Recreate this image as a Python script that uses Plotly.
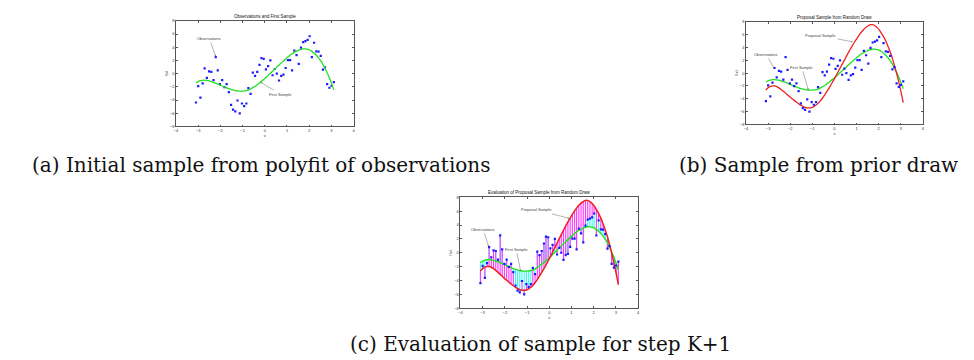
import plotly.graph_objects as go

# ---------------- data ----------------
x_obs = [-3.10, -3.00, -2.90, -2.80, -2.71, -2.61, -2.51, -2.41, -2.31, -2.21,
         -2.12, -2.02, -1.92, -1.82, -1.72, -1.62, -1.52, -1.43, -1.33, -1.23,
         -1.13, -1.03, -0.93, -0.83, -0.74, -0.64, -0.54, -0.44, -0.34, -0.24,
         -0.15, -0.05, 0.05, 0.15, 0.25, 0.35, 0.45, 0.54, 0.64, 0.74,
         0.84, 0.94, 1.04, 1.14, 1.23, 1.33, 1.43, 1.53, 1.63, 1.73,
         1.83, 1.93, 2.02, 2.12, 2.22, 2.32, 2.42, 2.52, 2.62, 2.71,
         2.81, 2.91, 3.01, 3.11]

y_obs = [-4.38, -1.90, -3.63, -1.49, 0.80, -0.65, 0.35, 0.25, -1.00, 2.50,
         0.50, -1.60, -1.00, -2.04, -1.60, -2.80, -4.73, -5.47, -5.72, -4.08,
         -6.02, -4.53, -4.93, -4.53, -2.19, -3.08, 0.15, -0.35, 0.25, 1.34,
         2.34, 2.24, 0.65, 1.14, 2.00, -0.25, 0.70, 0.00, -1.04, -0.35,
         -0.15, 0.85, 2.04, 2.04, 0.50, 3.48, 2.79, 1.49, 3.93, 4.78,
         4.93, 5.12, 5.67, 2.49, 4.68, 3.38, 3.33, 2.69, 0.60, 0.95,
         -1.60, -2.14, -1.84, -1.29]

first_sample = [-1.38, -1.20, -1.08, -1.02, -1.00, -1.04, -1.11, -1.21, -1.32, -1.45,
                -1.58, -1.73, -1.88, -2.02, -2.16, -2.29, -2.40, -2.48, -2.57, -2.63,
                -2.65, -2.66, -2.64, -2.57, -2.49, -2.33, -2.13, -1.92, -1.67, -1.42,
                -1.15, -0.89, -0.59, -0.27, 0.05, 0.37, 0.69, 0.98, 1.30, 1.62,
                1.92, 2.22, 2.51, 2.78, 3.01, 3.22, 3.41, 3.56, 3.68, 3.75,
                3.74, 3.68, 3.58, 3.37, 3.12, 2.79, 2.40, 1.95, 1.42, 0.82,
                0.12, -0.65, -1.52, -2.45]

proposal_sample = [-2.65, -2.30, -2.08, -1.98, -2.00, -2.10, -2.30, -2.55, -2.83, -3.12,
                   -3.40, -3.70, -3.98, -4.25, -4.52, -4.77, -5.00, -5.17, -5.33, -5.42,
                   -5.43, -5.37, -5.22, -4.98, -4.72, -4.33, -3.88, -3.38, -2.85, -2.30,
                   -1.77, -1.17, -0.55, 0.10, 0.75, 1.40, 2.03, 2.62, 3.25, 3.88,
                   4.46, 5.02, 5.55, 6.05, 6.45, 6.85, 7.17, 7.40, 7.55, 7.55,
                   7.40, 7.10, 6.75, 6.25, 5.70, 5.00, 4.20, 3.30, 2.30, 1.20,
                   -0.05, -1.40, -2.95, -4.60]

x_ticks = [-4, -3, -2, -1, 0, 1, 2, 3, 4]
y_ticks = [-8, -6, -4, -2, 0, 2, 4, 6, 8]

panel_titles = ["Observations and First Sample",
                "Proposal Sample from Random Draw",
                "Evaluation of Proposal Sample from Random Draw"]
captions = ["(a) Initial sample from polyfit of observations",
            "(b) Sample from prior draw",
            "(c) Evaluation of sample for step K+1"]

# ---------------- styling ----------------
W, H = 974, 360
OBS_COLOR = "#1a1aff"
GREEN = "#22e022"
RED = "#ee2020"
MAGENTA = "#ff33ff"
CYAN = "#33ffee"

# axes pixel boxes (left, right, top, bottom)
boxes = [(166.7, 345.0, 10.0, 117.0),
         (739.0, 916.7, 11.0, 115.0),
         (452.3, 630.7, 189.0, 301.3)]

fig = go.Figure()


def obs_trace(ax):
    return go.Scatter(x=x_obs, y=y_obs, mode="markers",
                      marker=dict(symbol="square", size=2.2, color=OBS_COLOR),
                      xaxis="x" + ax, yaxis="y" + ax, showlegend=False,
                      hoverinfo="skip")


def curve_trace(ax, ys, color, width=1.3):
    return go.Scatter(x=x_obs, y=ys, mode="lines",
                      line=dict(color=color, width=width, shape="spline", smoothing=0.6),
                      xaxis="x" + ax, yaxis="y" + ax, showlegend=False,
                      hoverinfo="skip")


def stems(ax, ys_to, color):
    sx, sy = [], []
    for xv, yo, yt in zip(x_obs, y_obs, ys_to):
        sx += [xv, xv, None]
        sy += [yo, yt, None]
    return go.Scatter(x=sx, y=sy, mode="lines", line=dict(color=color, width=1.1),
                      xaxis="x" + ax, yaxis="y" + ax, showlegend=False,
                      hoverinfo="skip", connectgaps=False)


# panel (a)
fig.add_trace(obs_trace(""))
fig.add_trace(curve_trace("", first_sample, GREEN))
# panel (b)
fig.add_trace(curve_trace("2", first_sample, GREEN))
fig.add_trace(curve_trace("2", proposal_sample, RED))
fig.add_trace(obs_trace("2"))
# panel (c)
fig.add_trace(stems("3", first_sample, CYAN))
fig.add_trace(stems("3", proposal_sample, MAGENTA))
fig.add_trace(curve_trace("3", first_sample, GREEN, 1.4))
fig.add_trace(curve_trace("3", proposal_sample, RED, 1.5))
fig.add_trace(obs_trace("3"))

layout = dict(width=W, height=H, margin=dict(l=0, r=0, t=0, b=0),
              paper_bgcolor="white", plot_bgcolor="white", showlegend=False)

tick_font = dict(family="Liberation Sans, Arial, sans-serif", size=4, color="#333")
for i, (l, r, t, b) in enumerate(boxes):
    suffix = "" if i == 0 else str(i + 1)
    xa = dict(domain=[l / W, r / W], range=[-4, 4], tickvals=x_ticks,
              ticks="inside", ticklen=2, tickwidth=0.5, tickcolor="#555",
              showline=True, linecolor="#555", linewidth=0.6, mirror="ticks",
              showgrid=False, zeroline=False, tickfont=tick_font,
              title=dict(text="x", font=dict(size=4, color="#333"), standoff=1),
              anchor="y" + suffix, fixedrange=True)
    ya = dict(domain=[1 - b / H, 1 - t / H], range=[-8, 8], tickvals=y_ticks,
              ticks="inside", ticklen=2, tickwidth=0.5, tickcolor="#555",
              showline=True, linecolor="#555", linewidth=0.6, mirror="ticks",
              showgrid=False, zeroline=False, tickfont=tick_font,
              title=dict(text="f(x)", font=dict(size=4, color="#333"), standoff=1),
              anchor="x" + suffix, fixedrange=True)
    layout["xaxis" + suffix] = xa
    layout["yaxis" + suffix] = ya

fig.update_layout(**layout)

# subplot titles
title_pos = [(255.9, 6.0), (827.5, 7.0), (532.0, 184.5)]
for txt, (px, py) in zip(panel_titles, title_pos):
    fig.add_annotation(text=txt, xref="paper", yref="paper", x=px / W, y=1 - py / H,
                       showarrow=False, xanchor="center", yanchor="middle",
                       font=dict(family="Liberation Sans, Arial, sans-serif", size=4.5, color="#111"))

# in-plot labelled arrows: (axis suffix, text, head x, head y, text x, text y)
labels = [("", "Observations", -2.21, 2.6, -2.5, 5.3),
          ("", "First Sample", -0.19, -1.3, 0.7, -3.1),
          ("2", "Proposal Sample", 0.82, 4.9, -0.62, 5.8),
          ("2", "Observations", -2.73, 0.75, -3.08, 2.9),
          ("2", "First Sample", -1.18, -2.6, -1.48, 0.9),
          ("3", "Proposal Sample", 0.90, 4.96, -0.56, 6.2),
          ("3", "Observations", -2.73, 0.88, -2.98, 3.4),
          ("3", "First Sample", -1.29, -2.68, -1.49, 0.5)]
for sfx, txt, hx, hy, tx, ty in labels:
    fig.add_annotation(text=txt, x=hx, y=hy, ax=tx, ay=ty,
                       xref="x" + sfx, yref="y" + sfx, axref="x" + sfx, ayref="y" + sfx,
                       showarrow=True, arrowhead=2, arrowsize=0.6, arrowwidth=0.5,
                       arrowcolor="#666", standoff=0,
                       font=dict(family="Liberation Sans, Arial, sans-serif", size=4, color="#444"))

# captions (centre x, centre y in pixels)
cap_pos = [(252, 156), (812, 156), (533, 338)]
for txt, (px, py) in zip(captions, cap_pos):
    fig.add_annotation(text=txt, xref="paper", yref="paper", x=px / W, y=1 - py / H,
                       showarrow=False, xanchor="center", yanchor="middle",
                       font=dict(family="DejaVu Serif, serif", size=20, color="#111"))

fig.write_html("out.html")
